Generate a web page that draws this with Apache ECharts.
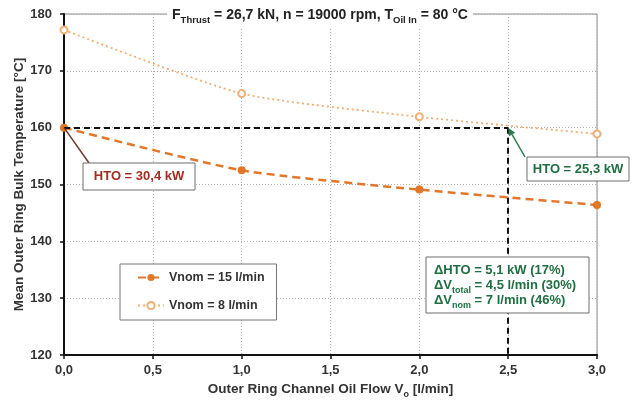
<!DOCTYPE html>
<html>
<head>
<meta charset="utf-8">
<script src="https://cdn.jsdelivr.net/npm/echarts@6/dist/echarts.min.js"></script>
<style>
  html, body { margin: 0; padding: 0; background: #fff; }
  #chart { width: 640px; height: 400px; }
</style>
</head>
<body>
<div id="chart"></div>
<script>
// Outer ring channel oil flow [l/min]
const flow = [0, 1, 2, 3];
// Mean outer ring bulk temperature [°C] per nominal flow
const temp15 = [160.0, 152.5, 149.1, 146.4];
const temp8 = [177.2, 166.0, 161.9, 158.9];
const seriesNames = ['Vnom = 15 l/min', 'Vnom = 8 l/min'];
// Operating point reached with the reduced flow
const refFlow = 2.5;
const refTemp = 160;
const yMin = 120, yMax = 180, yStep = 10;
const xMin = 0, xMax = 3, xStep = 0.5;

const FONT = '"Liberation Sans", Arial, sans-serif';
const C15 = '#E2772A';
const C8 = '#F3AE72';
const RED = '#9E2E20';
const GREEN = '#1F6E42';

const chart = echarts.init(document.getElementById('chart'), null, { renderer: 'canvas' });

const pairs = (xs, ys) => xs.map((x, i) => [x, ys[i]]);

chart.setOption({
  animation: false,
  backgroundColor: '#fff',
  textStyle: { fontFamily: FONT },
  title: {
    left: 'center',
    top: 4,
    padding: [2, 5],
    backgroundColor: '#fff',
    text: '{b|F}{s|Thrust}{b| = 26,7 kN, n = 19000 rpm, T}{s|Oil In}{b| = 80 °C}',
    textStyle: {
      rich: {
        b: { fontFamily: FONT, fontWeight: 'bold', fontSize: 14, color: '#222', verticalAlign: 'bottom', lineHeight: 16 },
        s: { fontFamily: FONT, fontWeight: 'bold', fontSize: 9.5, color: '#222', verticalAlign: 'bottom', padding: [0, 0, -3, 0], lineHeight: 16 }
      }
    }
  },
  grid: {
    left: 64, right: 43, top: 14, bottom: 45,
    containLabel: false,
    outerBoundsMode: 'none',
    show: true, borderColor: '#8a8a8a', borderWidth: 1
  },
  legend: {
    orient: 'vertical',
    left: 120, top: 264,
    padding: [7, 12, 8, 17],
    itemGap: 15,
    itemWidth: 26, itemHeight: 9,
    borderColor: '#777', borderWidth: 1,
    backgroundColor: '#fff',
    textStyle: { fontFamily: FONT, fontWeight: 'bold', fontSize: 12.5, color: '#333' },
    data: seriesNames
  },
  xAxis: {
    type: 'value', min: xMin, max: xMax, interval: xStep,
    name: '{n|Outer Ring Channel Oil Flow V}{s|o}{n| [l/min]}',
    nameLocation: 'middle', nameGap: 25,
    nameTextStyle: {
      rich: {
        n: { fontFamily: FONT, fontWeight: 'bold', fontSize: 13.5, color: '#333', verticalAlign: 'bottom', lineHeight: 16 },
        s: { fontFamily: FONT, fontWeight: 'bold', fontSize: 9, color: '#333', verticalAlign: 'bottom', padding: [0, 0, -3, 0], lineHeight: 16 }
      }
    },
    axisLine: { show: true, lineStyle: { color: '#111', width: 2 } },
    axisTick: { show: true, length: 4, lineStyle: { color: '#111', width: 1.5 } },
    axisLabel: {
      margin: 9, fontFamily: FONT, fontWeight: 'bold', fontSize: 13, color: '#333',
      formatter: v => v.toFixed(1).replace('.', ',')
    },
    splitLine: { show: true, lineStyle: { color: '#b0b0b0', type: [1, 2], width: 1 } }
  },
  yAxis: {
    type: 'value', min: yMin, max: yMax, interval: yStep,
    name: 'Mean Outer Ring Bulk Temperature [°C]',
    nameLocation: 'middle', nameGap: 38,
    nameMoveOverlap: false,
    nameTextStyle: { fontFamily: FONT, fontWeight: 'bold', fontSize: 13.5, color: '#333' },
    axisLine: { show: true, lineStyle: { color: '#111', width: 2 } },
    axisTick: { show: true, length: 4, lineStyle: { color: '#111', width: 1.5 } },
    axisLabel: { margin: 12, fontFamily: FONT, fontWeight: 'bold', fontSize: 13, color: '#333' },
    splitLine: { show: true, lineStyle: { color: '#b0b0b0', type: [1, 2], width: 1 } }
  },
  series: [
    {
      name: seriesNames[0],
      type: 'line',
      data: pairs(flow, temp15),
      smooth: 0.2,
      symbol: 'circle', symbolSize: 8,
      itemStyle: { color: C15 },
      lineStyle: { color: C15, width: 2.5, type: [8, 5] },
      z: 3,
      markLine: {
        silent: true,
        symbol: 'none',
        label: { show: false },
        lineStyle: { color: '#111', width: 2, type: [6, 4] },
        data: [
          [{ coord: [xMin, refTemp] }, { coord: [refFlow, refTemp] }],
          [{ coord: [refFlow, refTemp] }, { coord: [refFlow, yMin] }]
        ],
        z: 4
      }
    },
    {
      name: seriesNames[1],
      type: 'line',
      data: pairs(flow, temp8),
      smooth: 0.2,
      symbol: 'emptyCircle', symbolSize: 7,
      itemStyle: { color: C8, borderWidth: 1.2 },
      lineStyle: { color: C8, width: 1.8, type: [2, 3] },
      z: 2
    }
  ]
});

// Annotation boxes and their leaders, anchored to the data points
const pStart = chart.convertToPixel({ gridIndex: 0 }, [flow[0], temp15[0]]);
const pRef = chart.convertToPixel({ gridIndex: 0 }, [refFlow, refTemp]);

const boxA = { x: 83, y: 163, w: 112, h: 27 };
const boxB = { x: 527, y: 157, w: 102, h: 24 };
const boxC = { x: 426, y: 257, w: 163, h: 56 };

const tailB = [boxB.x - 2, boxB.y];
const ang = Math.atan2(pRef[1] - tailB[1], pRef[0] - tailB[0]);
const ah = 8, aw = 3.5;
const base = [pRef[0] - ah * Math.cos(ang), pRef[1] - ah * Math.sin(ang)];
const arrowHead = [
  [pRef[0], pRef[1]],
  [base[0] + aw * Math.sin(ang), base[1] - aw * Math.cos(ang)],
  [base[0] - aw * Math.sin(ang), base[1] + aw * Math.cos(ang)]
];

const boldText = (size, color) => ({ fontFamily: FONT, fontWeight: 'bold', fontSize: size, fill: color });

chart.setOption({
  graphic: [
    { type: 'line', z: 10, shape: { x1: pStart[0], y1: pStart[1], x2: boxA.x + 6, y2: boxA.y }, style: { stroke: '#6A3A30', lineWidth: 1.5 } },
    { type: 'rect', z: 11, shape: { x: boxA.x, y: boxA.y, width: boxA.w, height: boxA.h }, style: { fill: '#fff', stroke: '#6e6e6e', lineWidth: 1 } },
    { type: 'text', z: 12, x: boxA.x + boxA.w / 2, y: boxA.y + boxA.h / 2, style: Object.assign({ text: 'HTO = 30,4 kW', align: 'center', verticalAlign: 'middle' }, boldText(13, RED)) },

    { type: 'line', z: 10, shape: { x1: tailB[0], y1: tailB[1], x2: base[0], y2: base[1] }, style: { stroke: '#2E7A50', lineWidth: 1.5 } },
    { type: 'polygon', z: 10, shape: { points: arrowHead }, style: { fill: '#2E7A50' } },
    { type: 'rect', z: 11, shape: { x: boxB.x, y: boxB.y, width: boxB.w, height: boxB.h }, style: { fill: '#fff', stroke: '#6e6e6e', lineWidth: 1 } },
    { type: 'text', z: 12, x: boxB.x + boxB.w / 2, y: boxB.y + boxB.h / 2, style: Object.assign({ text: 'HTO = 25,3 kW', align: 'center', verticalAlign: 'middle' }, boldText(13, GREEN)) },

    { type: 'rect', z: 11, shape: { x: boxC.x, y: boxC.y, width: boxC.w, height: boxC.h }, style: { fill: '#fff', stroke: '#6e6e6e', lineWidth: 1 } },
    {
      type: 'text', z: 12, x: boxC.x + 8, y: boxC.y + 5,
      style: {
        text: '{n|ΔHTO = 5,1 kW (17%)}\n{n|ΔV}{s|total}{n| = 4,5 l/min (30%)}\n{n|ΔV}{s|nom}{n| = 7 l/min (46%)}',
        align: 'left', verticalAlign: 'top',
        fontFamily: FONT, fontWeight: 'bold', fontSize: 13, fill: GREEN,
        rich: {
          n: { fontFamily: FONT, fontWeight: 'bold', fontSize: 13, fill: GREEN, lineHeight: 15, verticalAlign: 'bottom' },
          s: { fontFamily: FONT, fontWeight: 'bold', fontSize: 9, fill: GREEN, lineHeight: 15, verticalAlign: 'bottom', padding: [0, 0, -3, 0] }
        }
      }
    }
  ]
});
</script>
</body>
</html>
